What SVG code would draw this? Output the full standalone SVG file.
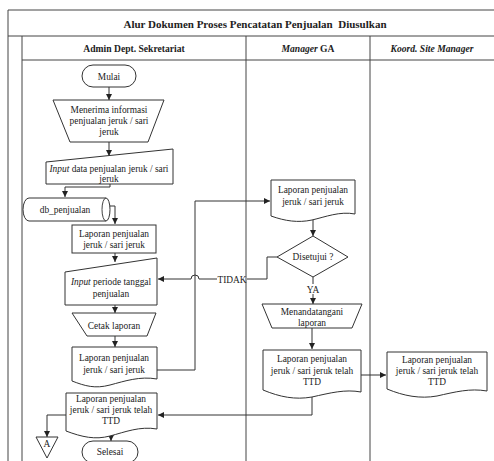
<svg xmlns="http://www.w3.org/2000/svg" width="494" height="461" viewBox="0 0 494 461" font-family="'Liberation Serif', 'Times New Roman', serif">
<defs>
<marker id="ah" viewBox="0 0 10 10" refX="10" refY="5" markerWidth="6" markerHeight="6" orient="auto" markerUnits="userSpaceOnUse"><path d="M0,0 L10,5 L0,10 Z" fill="#222"/></marker>
<style>
.s{fill:#fff;stroke:#333;stroke-width:1}
.f{fill:none;stroke:#444;stroke-width:1}
.c{fill:none;stroke:#333;stroke-width:1;marker-end:url(#ah)}
.cn{fill:none;stroke:#333;stroke-width:1}
text{font-family:'Liberation Serif','Times New Roman',serif;font-size:9.4px;fill:#222;text-anchor:middle}
.t{font-size:11px;font-weight:bold}
.h{font-size:9.6px;font-weight:bold}
</style>
</defs>
<rect width="494" height="461" fill="#fff"/>
<g id="frame">
<path class="f" d="M8,461 V10 H494 M8,36 H494 M22,36 V461 M22,60 H494 M246,36 V461 M370,36 V461"/>
<text class="t" x="255" y="28">Alur Dokumen Proses Pencatatan Penjualan&#160; Diusulkan</text>
<text class="h" x="134" y="52">Admin Dept. Sekretariat</text>
<text class="h" x="308" y="52"><tspan font-style="italic">Manager</tspan> GA</text>
<text class="h" x="432" y="52" font-style="italic">Koord. Site Manager</text>
</g>
<g id="connectors">
<path class="c" d="M109,87 V100"/>
<path class="c" d="M109,142 V156"/>
<path class="c" d="M110,184 V187 H65 V197"/>
<path class="c" d="M108,206 H115 V224"/>
<path class="c" d="M115,253 V262"/>
<path class="c" d="M115,305 V313"/>
<path class="c" d="M115,336 V347"/>
<path class="c" d="M157,370 H195 V201 H270"/>
<path class="c" d="M313,217 V236"/>
<path class="cn" d="M277,257 H267 V279 H247"/>
<path class="c" d="M217,279 H199 A4,4 0 0 0 191,279 H158"/>
<text x="232" y="283">TIDAK</text>
<path class="cn" d="M313,277 V284"/>
<path class="c" d="M313,294 V304"/>
<text x="313" y="293">YA</text>
<path class="c" d="M312,328 V349"/>
<path class="c" d="M361,375 H386"/>
<path class="c" d="M312,394 V415 H158"/>
<path class="c" d="M66,415 H47 V437"/>
<path class="c" d="M111,432 V441"/>
</g>
<g id="mulai">
<rect class="s" x="82" y="65" width="54" height="22" rx="11"/>
<text x="109" y="80">Mulai</text>
</g>
<g id="menerima">
<path class="s" d="M53,100 H164 L148,142 H70 Z"/>
<text x="109" y="113">Menerima informasi</text>
<text x="109" y="124">penjualan jeruk / sari</text>
<text x="109" y="135">jeruk</text>
</g>
<g id="input-data">
<path class="s" d="M46,162 L173,149 V184 H46 Z"/>
<text x="109" y="172"><tspan font-style="italic">Input</tspan> data penjualan jeruk / sari</text>
<text x="109" y="182">jeruk</text>
</g>
<g id="db">
<path class="s" d="M29,198 H106 A4,11.5 0 0 1 106,221 H29 A6,11.5 0 0 1 29,198 Z"/>
<path class="f" d="M106,198 A4,11.5 0 0 0 106,221"/>
<text x="65" y="213">db_penjualan</text>
</g>
<g id="laporan1">
<rect class="s" x="72" y="225" width="84" height="28"/>
<text x="114" y="237">Laporan penjualan</text>
<text x="114" y="248">jeruk / sari jeruk</text>
</g>
<g id="input-periode">
<path class="s" d="M65,272 L157,258 V305 H65 Z"/>
<text x="111" y="285"><tspan font-style="italic">Input</tspan> periode tanggal</text>
<text x="111" y="297">penjualan</text>
</g>
<g id="cetak">
<path class="s" d="M72,313 H156 L147,336 H87 Z"/>
<text x="114" y="329">Cetak laporan</text>
</g>
<g id="laporan2">
<path class="s" d="M72,347 H157 V379 C140,376 125,381 110,385 C95,389 85,386 72,381 Z"/>
<text x="114" y="361">Laporan penjualan</text>
<text x="114" y="373">jeruk / sari jeruk</text>
</g>
<g id="laporan-ttd-admin">
<path class="s" d="M66,393 H157 V429 C140,426 125,432 110,436 C95,440 82,437 66,431 Z"/>
<text x="111" y="402">Laporan penjualan</text>
<text x="111" y="413">jeruk / sari jeruk telah</text>
<text x="111" y="424">TTD</text>
</g>
<g id="konektor-a">
<path class="s" d="M36,437 H58 L47,458 Z"/>
<text x="47" y="447">A</text>
</g>
<g id="selesai">
<rect class="s" x="82" y="441" width="56" height="22" rx="11"/>
<text x="110" y="455">Selesai</text>
</g>
<g id="laporan-mgr">
<path class="s" d="M271,180 H355 V214 C340,211 325,217 312,220 C298,223 285,221 271,216 Z"/>
<text x="313" y="193">Laporan penjualan</text>
<text x="313" y="205">jeruk / sari jeruk</text>
</g>
<g id="disetujui">
<path class="s" d="M313,236 L348,257 L313,277 L277,257 Z"/>
<text x="313" y="260">Disetujui ?</text>
</g>
<g id="menandatangani">
<path class="s" d="M262,304 H362 L352,328 H272 Z"/>
<text x="312" y="315">Menandatangani</text>
<text x="312" y="326">laporan</text>
</g>
<g id="laporan-ttd-mgr">
<path class="s" d="M263,350 H361 V392 C345,389 330,393 312,397 C295,400 280,397 263,390 Z"/>
<text x="312" y="362">Laporan penjualan</text>
<text x="312" y="374">jeruk / sari jeruk telah</text>
<text x="312" y="385">TTD</text>
</g>
<g id="laporan-ttd-koord">
<path class="s" d="M387,352 H487 V391 C470,388 455,392 437,396 C420,399 404,396 387,389 Z"/>
<text x="437" y="363">Laporan penjualan</text>
<text x="437" y="374">jeruk / sari jeruk telah</text>
<text x="437" y="385">TTD</text>
</g>
</svg>
